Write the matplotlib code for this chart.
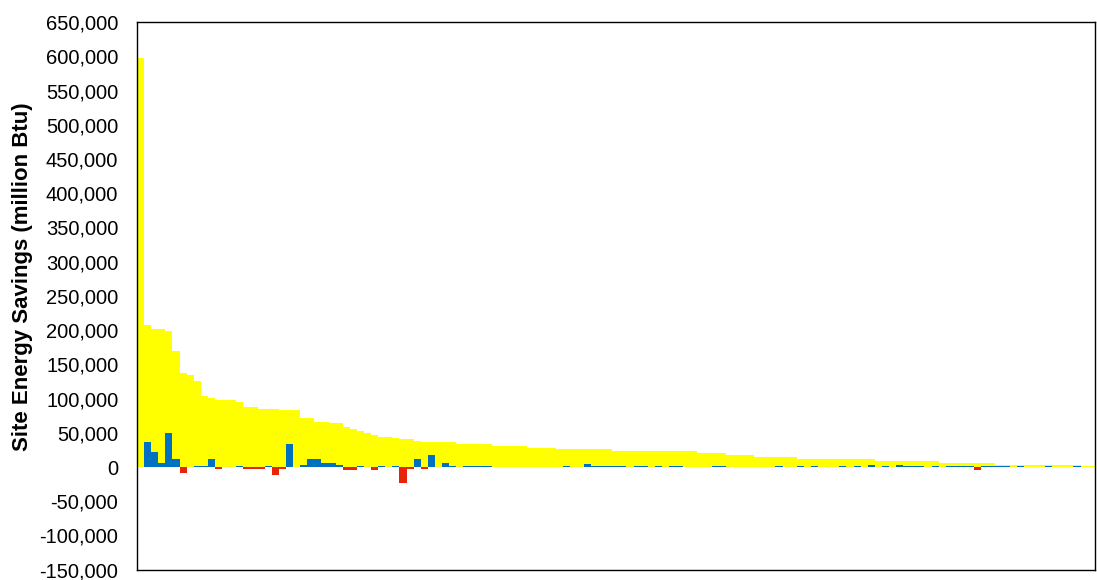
import numpy as np
import matplotlib
matplotlib.use("Agg")
import matplotlib.pyplot as plt
from matplotlib.ticker import FuncFormatter

# total site energy savings per site (thousand million Btu), sorted descending
total_k = ([598, 208, 202, 202, 199, 170, 137, 134, 126, 104, 101, 98.3, 98.3, 98.3, 95.4,
            87.6, 87.6, 85.2, 85.2, 85.2, 82.8, 82.8, 82.8, 71.6, 71.6, 66, 66, 63.8, 63.8,
            58, 55.5, 52.6, 50, 47.2, 44.3, 44.3, 42.4, 40.5, 40.5, 37.5]
           + [36.5] * 5 + [33.6] * 5 + [30.7] * 5 + [27.8] * 4 + [25.6] * 8
           + [22.9] * 12 + [20.9] * 4 + [18.0] * 4 + [15.0] * 6 + [12.1] * 3
           + [11.7] * 8 + [8.8] * 9 + [6.3] * 8 + [3.4] * 12 + [1.5] * 2)

# component savings for the same sites (negative = increase)
component_k = ([0, 36, 22.4, 6.3, 49.2, 11.7, -9.2, 0, 1.5, 1.5, 11.7, -3.4, 0, 0, 1.5,
                -3.4, -3.4, -3.4, 1.5, -11.7, -3.4, 33.6, 0, 2.9, 11.7, 11.7, 6.3, 6.3, 2.9,
                -3.9, -3.9, 1.5, 0, -3.9, 1.5, 0, 1.5, -24, -3, 11.7, -3, 17.5, 0, 6.3, 1,
                0, 1, 1, 1, 1]
               + [0] * 10 + [1, 0, 0, 3.9, 1.5, 1.5, 1.5, 1.5, 1.5, 0, 1.5, 1.5, 0, 1.5, 0,
                             1.5, 1.5, 0, 0, 0, 0, 1.5, 1.5]
               + [0] * 7 + [1.5, 0, 0, 1.5, 0, 1.5, 0, 0, 0, 1, 0, 1, 0, 2.9, 0, 1, 0, 2.9,
                            1, 1, 1, 0, 1, 0, 1, 1, 1, 1, -4, 1, 1, 1, 1, 0, 1, 0, 0, 0, 1,
                            0, 0, 0, 1, 0, 0])

total = np.array(total_k) * 1000
component = np.array(component_k) * 1000
x = np.arange(len(total))

plt.rcParams['font.family'] = ['Liberation Sans', 'DejaVu Sans']

fig = plt.figure(figsize=(10.97, 5.8), dpi=100)
ax = fig.add_axes([0.1249, 0.0178, 0.873, 0.944])

ax.bar(x, total, width=1.0, color='#FFFF00', linewidth=0)
colors = ['#0070C0' if v >= 0 else '#E8230A' for v in component]
ax.bar(x, component, width=1.0, color=colors, linewidth=0)

ax.set_xlim(-0.5, len(total) - 0.5)
ax.set_ylim(-150000, 650000)
ax.set_yticks(np.arange(-150000, 650001, 50000))
ax.yaxis.set_major_formatter(FuncFormatter(lambda v, p: f"{int(v):,}"))
ax.set_xticks([])
ax.tick_params(axis='y', direction='out', length=0, labelsize=14.5, pad=13.5)
for s in ax.spines.values():
    s.set_linewidth(1)
    s.set_color('black')

ax.set_ylabel('Site Energy Savings (million Btu)', fontsize=16, fontweight='bold')
ax.yaxis.set_label_coords(-0.109, 0.535)

fig.savefig('out.png', dpi=100)
